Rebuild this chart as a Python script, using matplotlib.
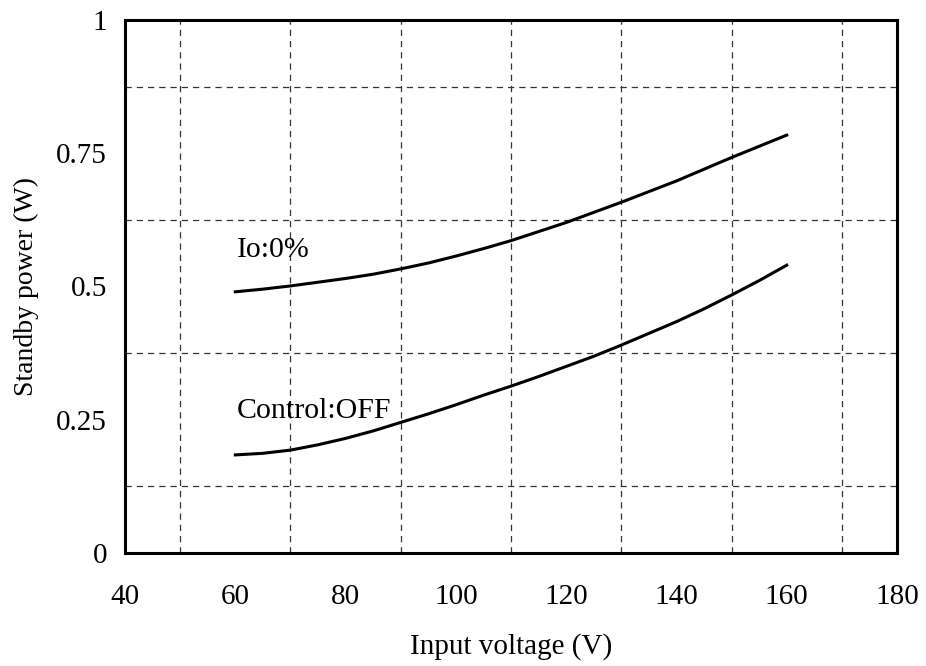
import matplotlib.pyplot as plt
import numpy as np

# Input voltage (V) and standby power (W)
voltage = [60, 65, 70, 75, 80, 85, 90, 95, 100, 105, 110,
           115, 120, 125, 130, 135, 140, 145, 150, 155, 160]
io_zero = [0.490, 0.495, 0.501, 0.508, 0.515, 0.523, 0.533, 0.544, 0.557, 0.571, 0.586,
           0.603, 0.620, 0.639, 0.658, 0.678, 0.698, 0.720, 0.742, 0.763, 0.784]
control_off = [0.184, 0.187, 0.193, 0.203, 0.215, 0.229, 0.245, 0.261, 0.278, 0.296, 0.313,
               0.331, 0.350, 0.369, 0.390, 0.412, 0.434, 0.458, 0.484, 0.511, 0.540]

x_ticks = [40, 60, 80, 100, 120, 140, 160, 180]
y_ticks = [0, 0.25, 0.5, 0.75, 1]
y_tick_labels = ["0", "0.25", "0.5", "0.75", "1"]

plt.rcParams['font.family'] = ['Liberation Serif', 'DejaVu Serif']

fig = plt.figure(figsize=(9.26, 6.66), dpi=100)
ax = fig.add_axes([0.135, 0.1697, 0.8337, 0.8003])

ax.plot(voltage, io_zero, color='black', lw=2.2)
ax.plot(voltage, control_off, color='black', lw=2.2)

# curve labels
ax.text(60.3, 0.556, "Io:0%", fontsize=21.5, va='baseline', ha='left')
ax.text(60.3, 0.253, "Control:OFF", fontsize=21.5, va='baseline', ha='left')

ax.set_xlim(40, 180)
ax.set_ylim(0, 1)
ax.set_xticks(x_ticks)
ax.set_yticks(y_ticks)
ax.set_yticklabels(y_tick_labels)
ax.set_xticks(np.arange(40, 181, 10), minor=True)
ax.set_yticks(np.arange(0, 1.01, 0.125), minor=True)
ax.grid(which='minor', color='#333333', linestyle=(0, (5, 4)), lw=0.9)
ax.tick_params(which='both', length=0, labelsize=21)
ax.tick_params(axis='x', pad=22)
ax.tick_params(axis='y', pad=13)

for s in ax.spines.values():
    s.set_linewidth(2.2)

ax.set_xlabel("Input voltage (V)", fontsize=21, labelpad=17)
ax.set_ylabel("Standby power (W)", fontsize=20, labelpad=12)

fig.savefig("out.png", dpi=100)
